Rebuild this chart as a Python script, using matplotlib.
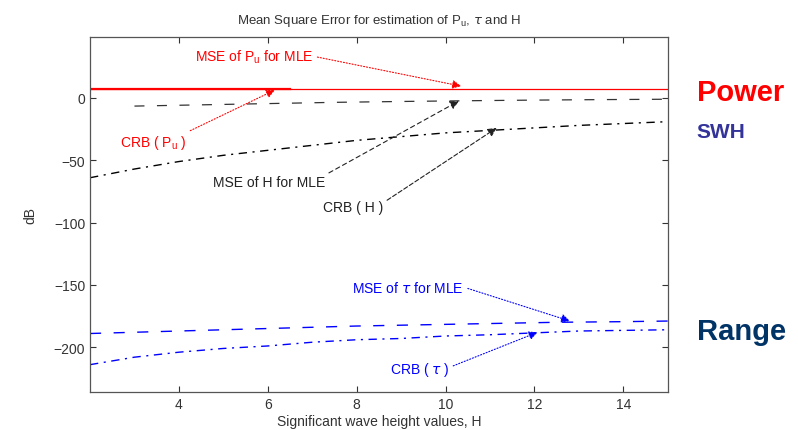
import matplotlib
matplotlib.use("Agg")
import matplotlib.pyplot as plt

plt.rcParams.update({'font.family': ['Liberation Sans', 'DejaVu Sans'], 'font.size': 10})

# data (dB)
h_pu_mle = [2, 6.5]
pu_mle = [7, 7]
h_pu_crb = [2, 15]
pu_crb = [7, 7]

h_h_mle = [3, 4.5, 6, 7.5, 9, 10.5, 12, 13.5, 15]
h_mle = [-6.5, -5.5, -4.5, -3.5, -2.8, -2.2, -1.7, -1.3, -1]

h_h_crb = [2, 3, 4, 5, 6, 7, 8, 9, 10, 11, 12, 13, 14, 15]
h_crb = [-64, -57, -51, -46, -42, -38, -34, -31, -28, -26, -24, -22, -20.5, -19]

h_tau_mle = [2, 3.5, 5, 6.5, 8, 9.5, 11, 12.5, 14, 15]
tau_mle = [-189, -187.5, -186, -184.5, -183, -182, -181, -180, -179.5, -179]

h_tau_crb = [2, 3, 4, 5, 6, 7, 8, 9, 10, 11, 12, 13, 14, 15]
tau_crb = [-214, -208, -204, -201, -199, -196, -194, -193, -191, -190, -188.5, -187, -186.5, -186]

fig = plt.figure(figsize=(7.98, 4.31), dpi=100)
ax = fig.add_axes([0.1128, 0.088, 0.724, 0.824])

ax.plot(h_pu_crb, pu_crb, color='red', linewidth=0.9)
ax.plot(h_pu_mle, pu_mle, color='red', linewidth=1.6)
ax.plot(h_h_mle, h_mle, color='#333333', linewidth=0.9, linestyle=(0, (8, 10)))
ax.plot(h_h_crb, h_crb, color='black', linewidth=1.0, linestyle=(0, (6, 4, 1.5, 4)))
ax.plot(h_tau_mle, tau_mle, color='blue', linewidth=1.0, linestyle=(0, (8, 9)))
ax.plot(h_tau_crb, tau_crb, color='blue', linewidth=1.0, linestyle=(0, (6, 4, 1.5, 4)))

def note(txt, xy, xytext, color, ls, rel):
    ax.annotate(txt, xy=xy, xytext=xytext, color=color, fontsize=10,
                ha='left', va='center',
                arrowprops=dict(arrowstyle='-|>', color=color, linestyle=ls,
                                linewidth=0.8, mutation_scale=13,
                                relpos=rel, shrinkA=1, shrinkB=0))

note(r'MSE of P$_\mathregular{u}$ for MLE', (10.35, 9.5), (4.36, 33.5), 'red', ':', (1, 0.5))
note(r'CRB ( P$_\mathregular{u}$ )', (6.16, 6.4), (2.67, -35), 'red', ':', (1, 1))
note('MSE of H for MLE', (10.3, -2.4), (4.76, -67.5), '#222222', (0, (4, 3)), (1, 1))
note('CRB ( H )', (11.15, -24), (7.24, -87.5), '#222222', (0, (4, 2)), (1, 0.8))
note(r'MSE of $\tau$ for MLE', (12.8, -179), (7.9, -151.8), 'blue', ':', (1, 0.5))
note(r'CRB ( $\tau$ )', (12.07, -188), (8.74, -217.7), 'blue', ':', (1, 0.6))

ax.set_xlim(2, 15)
ax.set_ylim(-236, 49)
ax.set_xticks([4, 6, 8, 10, 12, 14])
ax.set_yticks([0, -50, -100, -150, -200])
ax.tick_params(direction='in', top=True, right=True, labelsize=10, colors='#333333', length=4)
for s in ax.spines.values():
    s.set_color('#555555')
    s.set_linewidth(0.9)

ax.set_title(r'Mean Square Error for estimation of P$_\mathregular{u}$, $\tau$ and H',
             fontsize=9.5, color='#333333', pad=10)
ax.set_xlabel('Significant wave height values, H', fontsize=10, color='#333333', labelpad=2)
ax.set_ylabel('dB', fontsize=10, color='#333333', labelpad=12)

fig.text(0.873, 0.785, 'Power', color='#ff0000', fontsize=21, fontweight='bold', va='center')
fig.text(0.873, 0.692, 'SWH', color='#333399', fontsize=15, fontweight='bold', va='center')
fig.text(0.873, 0.23, 'Range', color='#003366', fontsize=21, fontweight='bold', va='center')

fig.savefig('out.png', dpi=100)
